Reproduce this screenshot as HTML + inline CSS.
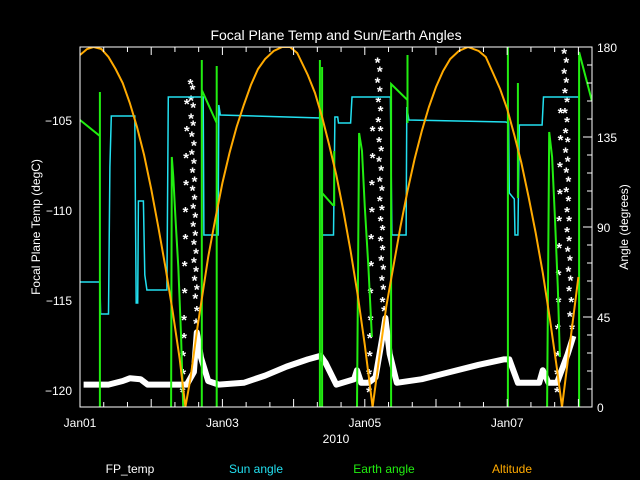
<!DOCTYPE html>
<html><head><meta charset="utf-8"><style>
html,body{margin:0;padding:0;background:#000;}
svg{display:block;font-family:"Liberation Sans",sans-serif;}
</style></head><body>
<svg id="chart" width="640" height="480" xmlns="http://www.w3.org/2000/svg">
<rect x="0" y="0" width="640" height="480" fill="#000"/>
<text x="336" y="40" fill="#fff" font-size="14" text-anchor="middle">Focal Plane Temp and Sun/Earth Angles</text>
<text transform="translate(40,227) rotate(-90)" fill="#fff" font-size="12" text-anchor="middle">Focal Plane Temp (degC)</text>
<text transform="translate(628,227) rotate(-90)" fill="#fff" font-size="12" text-anchor="middle">Angle (degrees)</text>
<text x="336" y="443" fill="#fff" font-size="12" text-anchor="middle">2010</text>
<text x="130" y="473" fill="#fff" font-size="12" text-anchor="middle">FP_temp</text>
<text x="256" y="473" fill="#22e0f0" font-size="12" text-anchor="middle">Sun angle</text>
<text x="384" y="473" fill="#22ee11" font-size="12" text-anchor="middle">Earth angle</text>
<text x="512" y="473" fill="#ffaa00" font-size="12" text-anchor="middle">Altitude</text>
<g id="plot"></g>
</svg>
<script>
// ---- data ----
const xTickDays = [0, 2, 4, 6];
const xTickLabels = ["Jan01", "Jan03", "Jan05", "Jan07"];
const leftTicks = [-105, -110, -115, -120];
const rightTicks = [0, 45, 90, 135, 180];

const altT = [0,0.1,0.19,0.3,0.4,0.5,0.6,0.7,0.8,0.9,1.0,1.1,1.2,1.3,1.4,1.48,1.55,1.65,1.8,1.9,2.0,2.1,2.2,2.3,2.4,2.5,2.6,2.72,2.84,2.95,3.05,3.2,3.3,3.4,3.5,3.6,3.7,3.8,3.9,4.0,4.11,4.2,4.3,4.4,4.5,4.6,4.7,4.8,4.9,5.0,5.1,5.2,5.32,5.45,5.6,5.7,5.8,5.9,6.0,6.1,6.2,6.3,6.4,6.5,6.6,6.7,6.77,6.9,7.0];
const altV = [176,179,180,179,175,169,162,152,140,126,109,90,70,48,24,0,14,40,75,94,112,127,140,151,161,169,174,178,180,180,177,166,157,145,131,116,98,78,56,31,0,24,50,70,90,108,124,138,150,160,168,174,178,180,178,175,167,159,149,136,122,105,87,67,44,19,0,37,65];

const sunT = [0,0.28,0.29,0.40,0.42,0.44,0.77,0.78,0.79,0.81,0.82,0.89,0.91,0.94,1.22,1.24,1.73,1.74,1.94,1.95,1.97,3.38,3.40,3.56,3.58,3.62,3.63,3.80,3.82,4.36,4.38,4.58,4.59,4.62,5.98,6.02,6.03,6.10,6.11,6.15,6.17,6.49,6.51,7.0];
const sunV = [62.5,62.5,46.5,46.5,120,145.5,145.5,95,52,52,103,103,66,58.5,58.5,155,155,86,86,151,146,144.5,86,86,145,145,142,142,155,155,86,86,150,143.5,142.5,142,107,104,86,86,141,141,155,155];

const earthT = [0,0.28,0.28,0.28,null,1.28,1.29,1.31,1.34,1.38,1.42,1.45,null,1.71,1.71,1.71,1.92,1.92,1.92,null,3.37,3.37,3.37,null,3.40,3.40,3.40,3.55,3.57,3.57,null,3.89,3.89,3.92,3.96,4.0,4.05,4.10,null,4.37,4.37,4.37,4.60,4.60,4.60,null,6.01,6.01,6.01,null,6.03,6.15,6.15,6.15,null,6.56,6.56,6.59,6.63,6.67,6.71,6.74,null,7.01,7.01,7.01,7.19];
const earthV = [143.5,135.5,157.5,0,null,0,125,115,95,70,35,0,null,0,173.5,158.5,142,170.5,0,null,0,173.5,0,null,0,170,107,101,101,128,0,null,0,137,128,100,70,35,0,null,0,161.5,153.5,142,176,0,null,0,180,0,null,107,104.5,162,0,null,0,137.5,125,95,60,25,0,null,0,177.5,153,143];

const fpT = [0.05,0.4,0.6,0.7,0.85,0.95,1.4,1.5,1.6,1.64,1.7,1.8,1.95,2.3,2.6,2.9,3.2,3.38,3.45,3.6,3.85,3.89,3.95,4.05,4.15,4.25,4.29,4.35,4.45,4.8,5.2,5.6,5.95,6.03,6.15,6.45,6.5,6.58,6.7,6.85,6.93];
const fpV = [-119.7,-119.7,-119.5,-119.35,-119.4,-119.7,-119.7,-119.7,-119.0,-116.8,-118.2,-119.5,-119.7,-119.6,-119.2,-118.7,-118.3,-118.1,-118.5,-119.7,-119.4,-118.9,-119.6,-119.6,-119.3,-117.0,-116.0,-118.0,-119.6,-119.4,-119.0,-118.6,-118.3,-118.3,-119.6,-119.6,-118.9,-119.6,-119.6,-118.0,-117.0];

const spikeT = [1.44,1.45,1.45,1.46,1.46,1.47,1.47,1.48,1.48,1.49,1.49,1.50,1.50,
1.55,1.58,1.56,1.59,1.56,1.59,1.57,1.60,1.57,1.60,1.58,1.61,1.58,1.61,1.59,1.62,1.59,1.62,1.60,1.63,1.60,1.63,1.61,1.64,1.62,1.64,1.63,
4.06,4.06,4.07,4.07,4.08,4.08,4.09,4.09,4.10,4.10,4.11,4.11,
4.18,4.21,4.18,4.21,4.19,4.22,4.19,4.22,4.20,4.23,4.20,4.23,4.21,4.24,4.21,4.24,4.22,4.25,4.22,4.25,4.23,4.26,4.24,4.26,4.25,4.27,
6.70,6.70,6.71,6.71,6.72,6.72,6.73,6.73,6.74,6.74,6.75,6.75,
6.80,6.83,6.80,6.83,6.81,6.84,6.81,6.84,6.82,6.85,6.82,6.85,6.83,6.86,6.83,6.86,6.84,6.87,6.84,6.87,6.85,6.88,6.86,6.89,6.87,6.90,6.88,6.91];
const spikeV = [-120,-119,-118,-117,-116,-114.5,-113,-111.5,-110,-108.5,-107,-105.5,-104,
-102.9,-103.2,-103.8,-104.2,-104.8,-105.2,-105.8,-106.3,-106.8,-107.3,-107.8,-108.3,-108.8,-109.3,-109.8,-110.3,-110.8,-111.3,-111.8,-112.3,-112.8,-113.3,-113.8,-114.3,-114.8,-115.5,-116.2,
-120,-119,-118,-117,-116,-114.5,-113,-111.5,-110,-108.5,-107,-105.5,
-101.7,-102.2,-102.8,-103.3,-103.9,-104.4,-105,-105.5,-106.1,-106.6,-107.2,-107.7,-108.3,-108.8,-109.4,-109.9,-110.5,-111,-111.6,-112.1,-112.7,-113.2,-113.8,-114.3,-115,-115.5,
-120,-119,-118,-116.5,-115,-113.5,-112,-110.5,-109,-107.5,-106,-104.5,
-101.2,-101.7,-102.3,-102.8,-103.4,-103.9,-104.5,-105,-105.6,-106.1,-106.7,-107.2,-107.8,-108.3,-108.9,-109.4,-110,-110.5,-111.1,-111.6,-112.2,-112.7,-113.3,-113.8,-114.4,-115,-115.8,-116.5];

// ---- scales ----
const L = 80, R = 592, T = 47, B = 407;
const X = t => L + t * 71.2;
const YL = v => 120 + (-105 - v) * 18;
const YR = a => B - a * 2;

const NS = "http://www.w3.org/2000/svg";
const plot = document.getElementById("plot");
function mk(tag, attrs) {
  const e = document.createElementNS(NS, tag);
  for (const k in attrs) e.setAttribute(k, attrs[k]);
  plot.appendChild(e);
  return e;
}
function pathFrom(ts, vs, yf) {
  let d = "", pen = false;
  for (let i = 0; i < ts.length; i++) {
    if (ts[i] === null || vs[i] === null) { pen = false; continue; }
    d += (pen ? "L" : "M") + X(ts[i]).toFixed(1) + "," + yf(vs[i]).toFixed(1);
    pen = true;
  }
  return d;
}

const defs = mk("defs", {});
const cp = document.createElementNS(NS, "clipPath");
cp.setAttribute("id", "clip");
const cr = document.createElementNS(NS, "rect");
cr.setAttribute("x", L); cr.setAttribute("y", T); cr.setAttribute("width", R - L); cr.setAttribute("height", B - T);
cp.appendChild(cr); defs.appendChild(cp);
const g = mk("g", { "clip-path": "url(#clip)" });



const fp = document.createElementNS(NS, "path");
fp.setAttribute("d", pathFrom(fpT, fpV, YL));
fp.setAttribute("stroke", "#fff"); fp.setAttribute("stroke-width", "6"); fp.setAttribute("fill", "none");
fp.setAttribute("stroke-linejoin", "round");


g.appendChild(fp);
for (let i = 0; i < spikeT.length; i++) {
  const s = document.createElementNS(NS, "text");
  s.setAttribute("x", X(spikeT[i]).toFixed(1));
  s.setAttribute("y", (YL(spikeV[i]) + 7).toFixed(1));
  s.setAttribute("fill", "#fff"); s.setAttribute("font-size", "15"); s.setAttribute("font-weight", "bold"); s.setAttribute("text-anchor", "middle");
  s.textContent = "*";
  
  
  g.appendChild(s);
}
const sun = document.createElementNS(NS, "path");
sun.setAttribute("d", pathFrom(sunT, sunV, YR));
sun.setAttribute("stroke", "#22e0f0"); sun.setAttribute("stroke-width", "1.5"); sun.setAttribute("fill", "none");


g.appendChild(sun);
const earth = document.createElementNS(NS, "path");
earth.setAttribute("d", pathFrom(earthT, earthV, YR));
earth.setAttribute("stroke", "#22ee11"); earth.setAttribute("stroke-width", "2"); earth.setAttribute("fill", "none");


g.appendChild(earth);
const alt = document.createElementNS(NS, "path");
alt.setAttribute("d", pathFrom(altT, altV, YR));
alt.setAttribute("stroke", "#ffaa00"); alt.setAttribute("stroke-width", "2"); alt.setAttribute("fill", "none");


g.appendChild(alt);

const fr = mk("rect", { x: L, y: T, width: R - L, height: B - T, fill: "none", stroke: "#fff", "stroke-width": 1 });



let td = "";
for (let k = 0; k <= 21; k++) {
  const t = k / 3, x = X(t);
  if (x > R) break;
  const len = (k % 3 === 0) ? 8 : 5;
  td += `M${x},${B}V${B - len}M${x},${T}V${T + len}`;
}
for (let v = -120; v >= -101; v--) {
  const y = YL(v), len = (v % 5 === 0) ? 9 : 5;
  td += `M${L},${y}H${L + len}`;
}
for (let a = 0; a <= 180; a += 9) {
  const y = YR(a), len = (a % 45 === 0) ? 9 : 5;
  td += `M${R},${y}H${R - len}`;
}
const ticks = mk("path", { d: td, stroke: "#fff", "stroke-width": 1, fill: "none" });



xTickDays.forEach((d, i) => {
  const t = mk("text", { x: X(d), y: 427, fill: "#fff", "font-size": 12, "text-anchor": "middle" });
  t.textContent = xTickLabels[i];
  
  
});
leftTicks.forEach(v => {
  const t = mk("text", { x: 72, y: YL(v) + 5, fill: "#fff", "font-size": 12, "text-anchor": "end" });
  t.textContent = "\u2212" + Math.abs(v);
  
  
});
rightTicks.forEach(a => {
  const t = mk("text", { x: 597, y: YR(a) + 5, fill: "#fff", "font-size": 12, "text-anchor": "start" });
  t.textContent = String(a);
  
  
});
</script>
</body></html>
